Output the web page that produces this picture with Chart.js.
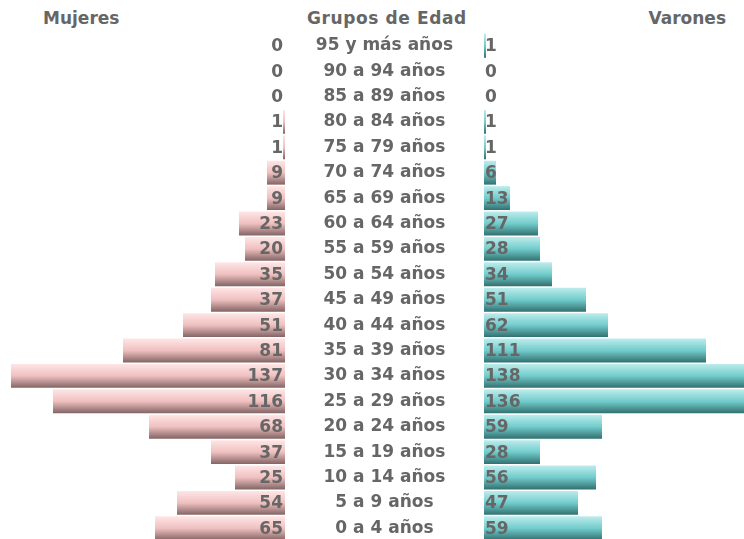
<!DOCTYPE html>
<html>
<head>
<meta charset="utf-8">
<script src="https://cdn.jsdelivr.net/npm/chart.js@4"></script>
<style>
  html, body { margin: 0; padding: 0; background: #fff; overflow: hidden; }
  body { width: 744px; height: 539px; position: relative; font-family: "DejaVu Sans", sans-serif; }
  .head { position: absolute; top: 8px; font-weight: bold; font-size: 17px; color: #666; white-space: nowrap; }
  #wrapLeft { position: absolute; left: 0; top: 33px; width: 285px; height: 508px; }
  #wrapRight { position: absolute; left: 286px; top: 33px; width: 458px; height: 508px; }
</style>
</head>
<body>
<div class="head" style="left:43px">Mujeres</div>
<div class="head" style="left:307px;letter-spacing:0.6px">Grupos de Edad</div>
<div class="head" style="right:18px">Varones</div>
<div id="wrapLeft"><canvas id="left"></canvas></div>
<div id="wrapRight"><canvas id="right"></canvas></div>
<script>
// age groups, oldest first (top of the pyramid)
const groups = ['95 y más años', '90 a 94 años', '85 a 89 años', '80 a 84 años', '75 a 79 años',
  '70 a 74 años', '65 a 69 años', '60 a 64 años', '55 a 59 años', '50 a 54 años',
  '45 a 49 años', '40 a 44 años', '35 a 39 años', '30 a 34 años', '25 a 29 años',
  '20 a 24 años', '15 a 19 años', '10 a 14 años', '5 a 9 años', '0 a 4 años'];
const mujeres = [0, 0, 0, 1, 1, 9, 9, 23, 20, 35, 37, 51, 81, 137, 116, 68, 37, 25, 54, 65];
const varones = [1, 0, 0, 1, 1, 6, 13, 27, 28, 34, 51, 62, 111, 138, 136, 59, 28, 56, 47, 59];

const textColor = '#666';
const labelFont = { family: 'DejaVu Sans', size: 17, weight: 'bold' };

// vertical gradient for each bar, built from the bar's own row on the y scale
function barGradient(stops) {
  return function(ctx) {
    const chart = ctx.chart;
    const yScale = chart.scales.y;
    if (!chart.chartArea || !yScale || ctx.dataIndex === undefined) return stops[1];
    const yc = yScale.getPixelForValue(ctx.dataIndex);
    const half = chart.chartArea.height / groups.length / 2;
    const g = chart.ctx.createLinearGradient(0, yc - half, 0, yc + half);
    g.addColorStop(0, stops[0]);
    g.addColorStop(0.5, stops[1]);
    g.addColorStop(1, stops[2]);
    return g;
  };
}

// value numbers written at the base of each bar
const valueLabels = {
  id: 'valueLabels',
  afterDatasetsDraw(chart, args, opts) {
    const ctx = chart.ctx;
    const meta = chart.getDatasetMeta(0);
    const data = chart.data.datasets[0].data;
    ctx.save();
    ctx.font = 'bold 17px "DejaVu Sans"';
    ctx.fillStyle = textColor;
    ctx.textBaseline = 'middle';
    ctx.textAlign = opts.align;
    meta.data.forEach((bar, i) => {
      ctx.fillText(String(data[i]), bar.base + opts.dx, bar.y + 1);
    });
    ctx.restore();
  }
};

new Chart(document.getElementById('left'), {
  type: 'bar',
  data: {
    labels: groups,
    datasets: [{
      data: mujeres,
      backgroundColor: barGradient(['#ffe8e8', '#f0c0c0', '#7c5e5e']),
      borderWidth: 0,
      barPercentage: 0.94,
      categoryPercentage: 1
    }]
  },
  options: {
    indexAxis: 'y',
    responsive: true,
    maintainAspectRatio: false,
    animation: false,
    layout: { padding: 0 },
    plugins: {
      legend: { display: false },
      tooltip: { enabled: false },
      valueLabels: { align: 'right', dx: -2 }
    },
    scales: {
      x: { reverse: true, min: 0, max: 142.5, display: false },
      y: { display: false }
    }
  },
  plugins: [valueLabels]
});

new Chart(document.getElementById('right'), {
  type: 'bar',
  data: {
    labels: groups,
    datasets: [{
      data: varones,
      backgroundColor: barGradient(['#c2eeee', '#72cccc', '#2e6a6a']),
      borderWidth: 0,
      barPercentage: 0.94,
      categoryPercentage: 1
    }]
  },
  options: {
    indexAxis: 'y',
    responsive: true,
    maintainAspectRatio: false,
    animation: false,
    layout: { padding: 0 },
    plugins: {
      legend: { display: false },
      tooltip: { enabled: false },
      valueLabels: { align: 'left', dx: 1 }
    },
    scales: {
      x: { min: 0, max: 130, display: false },
      y: {
        grid: { display: false },
        border: { display: false },
        afterFit(scale) {
          scale.width = 198;
          scale.paddingTop = 0;
          scale.paddingBottom = 0;
        },
        ticks: { color: textColor, font: labelFont, crossAlign: 'center', padding: 23 }
      }
    }
  },
  plugins: [valueLabels]
});
</script>
</body>
</html>
